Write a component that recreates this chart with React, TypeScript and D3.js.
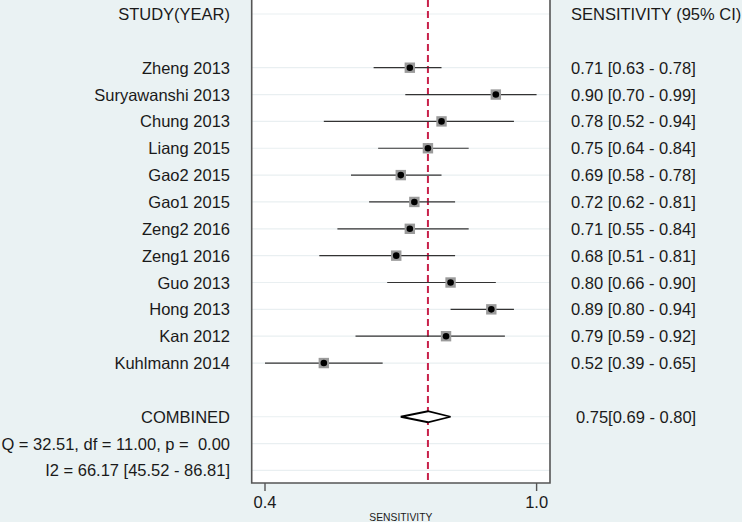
import React from "react";
import * as d3 from "d3";

const studies = [
  "Zheng 2013",
  "Suryawanshi 2013",
  "Chung 2013",
  "Liang 2015",
  "Gao2 2015",
  "Gao1 2015",
  "Zeng2 2016",
  "Zeng1 2016",
  "Guo 2013",
  "Hong 2013",
  "Kan 2012",
  "Kuhlmann 2014",
];
const sensitivity = [0.71, 0.9, 0.78, 0.75, 0.69, 0.72, 0.71, 0.68, 0.8, 0.89, 0.79, 0.52];
const lower = [0.63, 0.7, 0.52, 0.64, 0.58, 0.62, 0.55, 0.51, 0.66, 0.8, 0.59, 0.39];
const upper = [0.78, 0.99, 0.94, 0.84, 0.78, 0.81, 0.84, 0.81, 0.9, 0.94, 0.92, 0.65];

const combined = { est: 0.75, lo: 0.69, hi: 0.8 };
const tickValues = [0.4, 1.0];
const heterogeneityQ = "Q = 32.51, df = 11.00, p =  0.00";
const heterogeneityI2 = "I2 = 66.17 [45.52 - 86.81]";

const W = 742;
const H = 522;
const FONT = "'Liberation Sans', Arial, Helvetica, sans-serif";
const TEXT = "#1a1a1a";
const FS = 16.5;

export default function App() {
  const plotLeft = 251.7;
  const plotRight = 550;
  const plotBottom = 483;
  const x = d3.scaleLinear().domain([0.4, 1.0]).range([269.5, 541.1]);
  const row = d3.scaleLinear().domain([0, 1]).range([14, 40.85]);
  const f2 = d3.format(".2f");
  const studyRow = (i: number) => row(i + 2);
  const combRow = row(15);
  const labelX = 230;
  const valX = 571;
  const gridRows = [0, ...studies.map((_, i) => i + 2), 15, 16, 17];
  const axisShift = -4.5;
  const dy = 6;

  const dx = 5.5;
  const diamond = [
    [x(combined.lo), combRow],
    [x(combined.est), combRow - dx],
    [x(combined.hi), combRow],
    [x(combined.est), combRow + dx],
  ];

  return (
    <div style={{ position: "absolute", left: 0, top: 0 }}>
      <svg width={W} height={H} style={{ display: "block" }} fontFamily={FONT}>
        <rect x={0} y={0} width={W} height={H} fill="#eaf2f3" />
        <rect x={plotLeft} y={-5} width={plotRight - plotLeft} height={plotBottom + 5} fill="#ffffff" />
        {gridRows.map((r) => (
          <line
            key={"g" + r}
            x1={plotLeft}
            x2={plotRight}
            y1={row(r)}
            y2={row(r)}
            stroke="#e9eff1"
            strokeWidth={1.2}
          />
        ))}
        {/* reference line */}
        <line
          x1={x(combined.est)}
          x2={x(combined.est)}
          y1={0}
          y2={plotBottom}
          stroke="#c8214a"
          strokeWidth={2}
          strokeDasharray="7,4"
        />
        {/* study CIs and markers */}
        {studies.map((s, i) => {
          const y = studyRow(i);
          return (
            <g key={s}>
              <line x1={x(lower[i])} x2={x(upper[i])} y1={y} y2={y} stroke="#333" strokeWidth={1.2} />
              <rect x={x(sensitivity[i]) - 5.2} y={y - 5.2} width={10.4} height={10.4} fill="#9b9b9b" />
              <circle cx={x(sensitivity[i])} cy={y} r={3.3} fill="#000" />
            </g>
          );
        })}
        {/* combined diamond */}
        <polygon
          points={diamond.map((p) => p.join(",")).join(" ")}
          fill="#ffffff"
          stroke="#000"
          strokeWidth={1.8}
        />
        {/* frame */}
        <path
          d={`M${plotLeft},-2V${plotBottom}H${plotRight}V-2`}
          fill="none"
          stroke="#555"
          strokeWidth={1.6}
        />
        {/* axis ticks */}
        <g transform={`translate(${axisShift},${plotBottom})`}>
          {tickValues.map((t) => (
            <g key={t} transform={`translate(${x(t)},0)`}>
              <line y1={0} y2={8} stroke="#555" strokeWidth={1.4} />
              <text y={25} textAnchor="middle" fontSize={FS} fill={TEXT}>
                {d3.format(".1f")(t)}
              </text>
            </g>
          ))}
        </g>
        <text x={(plotLeft + plotRight) / 2} y={521} textAnchor="middle" fontSize={10.3} fill={TEXT}>
          SENSITIVITY
        </text>
        {/* left column */}
        <text x={labelX} y={row(0) + dy} textAnchor="end" fontSize={FS} fill={TEXT}>
          STUDY(YEAR)
        </text>
        {studies.map((s, i) => (
          <text key={"l" + s} x={labelX} y={studyRow(i) + dy} textAnchor="end" fontSize={FS} fill={TEXT}>
            {s}
          </text>
        ))}
        <text x={labelX} y={combRow + dy} textAnchor="end" fontSize={FS} fill={TEXT}>
          COMBINED
        </text>
        <text x={labelX} y={row(16) + dy} textAnchor="end" fontSize={FS} fill={TEXT} style={{ whiteSpace: "pre" }}>
          {heterogeneityQ}
        </text>
        <text x={labelX} y={row(17) + dy} textAnchor="end" fontSize={FS} fill={TEXT}>
          {heterogeneityI2}
        </text>
        {/* right column */}
        <text x={valX} y={row(0) + dy} fontSize={FS} fill={TEXT}>
          SENSITIVITY (95% CI)
        </text>
        {studies.map((s, i) => (
          <text key={"r" + s} x={valX} y={studyRow(i) + dy} fontSize={FS} fill={TEXT}>
            {`${f2(sensitivity[i])} [${f2(lower[i])} - ${f2(upper[i])}]`}
          </text>
        ))}
        <text x={576} y={combRow + dy} fontSize={FS} fill={TEXT}>
          {`${f2(combined.est)}[${f2(combined.lo)} - ${f2(combined.hi)}]`}
        </text>
      </svg>
    </div>
  );
}
